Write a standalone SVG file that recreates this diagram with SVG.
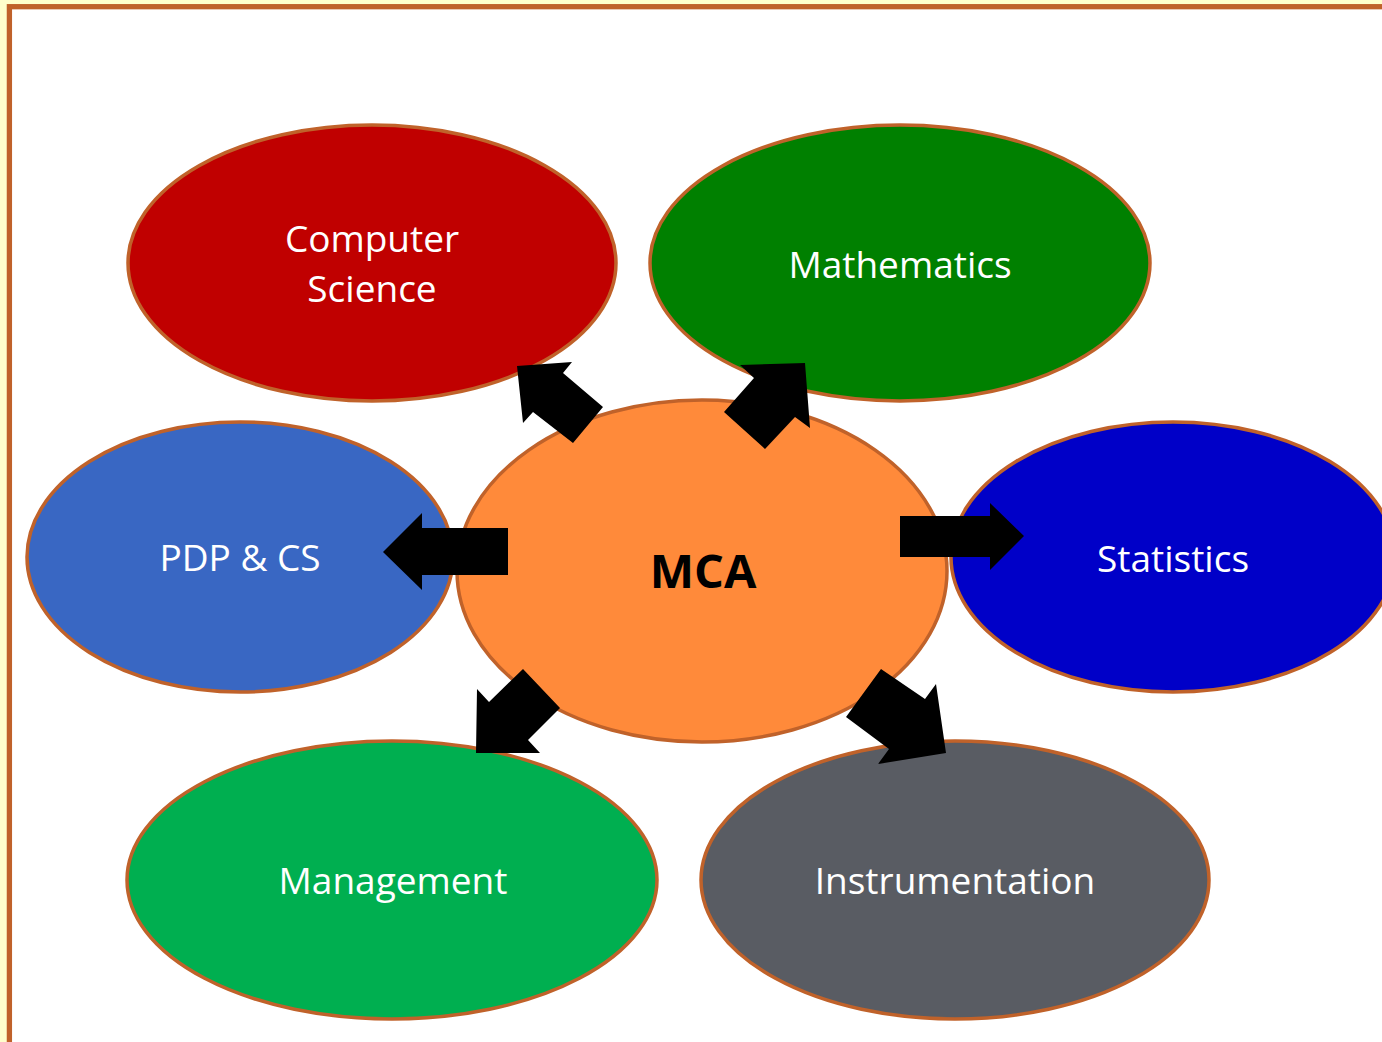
<svg xmlns="http://www.w3.org/2000/svg" width="1382" height="1042" viewBox="0 0 1382 1042">
  <style>
    .node ellipse { stroke: #C0622A; stroke-width: 3.5; }
    .lbl { font-family: "Open Sans", "Noto Sans", "Liberation Sans", sans-serif; font-size: 37px; fill: #FFFFFF; text-anchor: middle; }
    .main { font-family: "Open Sans", "Noto Sans", "Liberation Sans", sans-serif; font-size: 47px; font-weight: bold; fill: #000000; text-anchor: middle; }
    .arrow { fill: #000000; }
  </style>
  <rect x="0" y="0" width="1382" height="1042" fill="#FFFFCC"/>
  <rect x="9.4" y="6.7" width="1400" height="1100" fill="#FFFFFF" stroke="#C0622A" stroke-width="5.3"/>

  <g id="node-computer-science" class="node">
    <ellipse cx="372" cy="263" rx="244" ry="138" fill="#C00000"/>
    <text class="lbl" x="372" y="252">Computer</text>
    <text class="lbl" x="372" y="302">Science</text>
  </g>
  <g id="node-mathematics" class="node">
    <ellipse cx="900" cy="263" rx="250" ry="138" fill="#008000"/>
    <text class="lbl" x="900" y="278">Mathematics</text>
  </g>
  <g id="node-pdp-cs" class="node">
    <ellipse cx="240" cy="557" rx="213" ry="135" fill="#3967C3"/>
    <text class="lbl" x="240" y="571">PDP &amp; CS</text>
  </g>
  <g id="node-statistics" class="node">
    <ellipse cx="1173" cy="557" rx="222" ry="135" fill="#0000C8"/>
    <text class="lbl" x="1173" y="572">Statistics</text>
  </g>
  <g id="node-management" class="node">
    <ellipse cx="392" cy="880" rx="265" ry="139" fill="#00AF50"/>
    <text class="lbl" x="393" y="894">Management</text>
  </g>
  <g id="node-instrumentation" class="node">
    <ellipse cx="955" cy="880" rx="254" ry="139" fill="#595C63"/>
    <text class="lbl" x="955" y="894">Instrumentation</text>
  </g>
  <g id="node-mca" class="node">
    <ellipse cx="702" cy="571" rx="245" ry="171" fill="#FF8A3A"/>
    <text class="main" x="703" y="588">MCA</text>
  </g>

  <g id="connectors">
    <polygon class="arrow" points="383,552 422,513 422,528 508,528 508,575 422,575 422,590"/>
    <polygon class="arrow" points="1024,536 990,503 990,516 900,516 900,557 990,557 990,570"/>
    <polygon class="arrow" points="517,366 572,362 563,373 603,407 573,443 533,412 523,423"/>
    <polygon class="arrow" points="805,363 740,365 754,378 724,412 765,449 795,417 810,428"/>
    <polygon class="arrow" points="476,753 477,689 489,702 523,669 560,708 528,740 540,753"/>
    <polygon class="arrow" points="946,753 936,684 925,699 881,669 846,717 889,749 878,764"/>
  </g>
</svg>
